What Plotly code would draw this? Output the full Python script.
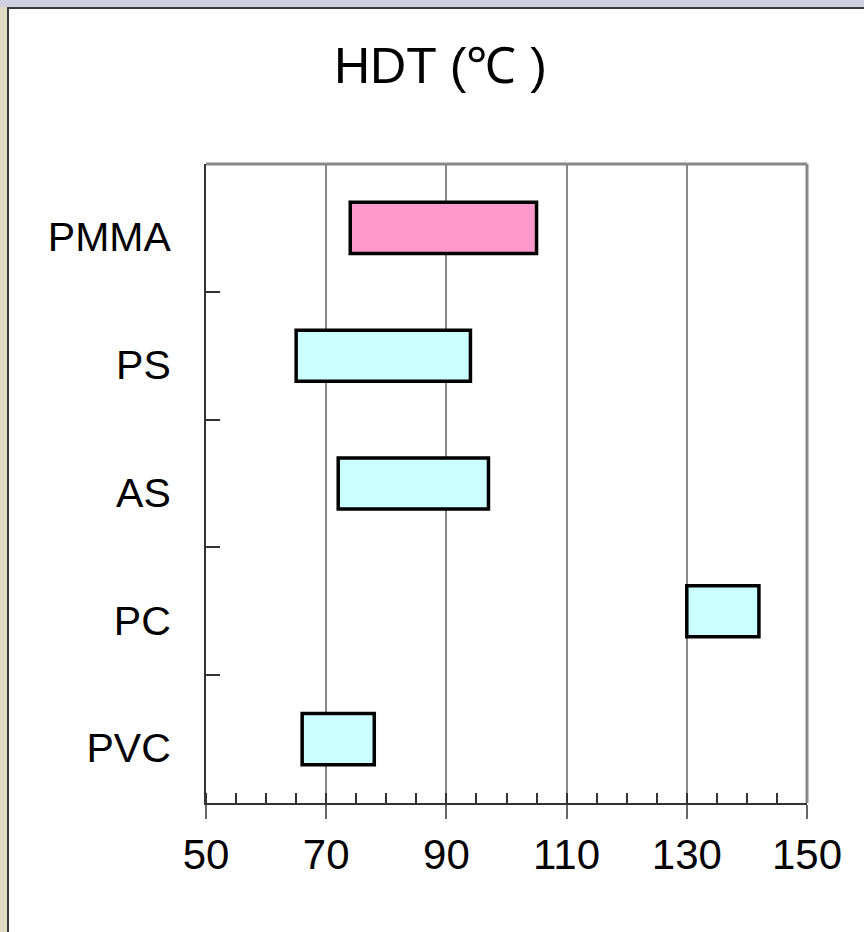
import plotly.graph_objects as go

# Heat deflection temperature ranges of common transparent plastics
materials = ["PMMA", "PS", "AS", "PC", "PVC"]
hdt_low = [74, 65, 72, 130, 66]
hdt_high = [105, 94, 97, 142, 78]
bar_colors = ["#FF99CC", "#CCFFFF", "#CCFFFF", "#CCFFFF", "#CCFFFF"]
x_ticks = [50, 70, 90, 110, 130, 150]

FONT = "Liberation Sans, Arial, Helvetica, sans-serif"

spans = [hi - lo for lo, hi in zip(hdt_low, hdt_high)]

fig = go.Figure(
    go.Bar(
        y=materials,
        x=spans,
        base=hdt_low,
        orientation="h",
        width=0.4,
        marker=dict(color=bar_colors, line=dict(color="#000000", width=3.5)),
        hoverinfo="skip",
    )
)

W, H = 864, 932
L, R, T, B = 206, 57, 164, 129
pw, ph = W - L - R, H - T - B


def px(xp):
    return (xp - L) / pw


def py(yp):
    return (H - B - yp) / ph


shapes = [
    # white chart panel with its dark frame
    dict(type="rect", xref="paper", yref="paper", layer="below",
         x0=px(8), x1=px(W + 10), y0=py(H + 10), y1=py(8),
         fillcolor="#FFFFFF", line=dict(color="#3a3a3a", width=2)),
    # top band of the surrounding background
    dict(type="rect", xref="paper", yref="paper", layer="below",
         x0=px(-5), x1=px(W + 10), y0=py(7), y1=py(-5),
         fillcolor="#cfcfe0", line=dict(width=0)),
    # top and right borders of the plot area
    dict(type="line", xref="paper", yref="paper", x0=0, x1=1, y0=1, y1=1,
         line=dict(color="#888888", width=3)),
    dict(type="line", xref="paper", yref="paper", x0=1, x1=1, y0=0, y1=1,
         line=dict(color="#888888", width=3)),
]

fig.update_layout(
    width=W,
    height=H,
    margin=dict(l=L, r=R, t=T, b=B),
    paper_bgcolor="#e0dbc3",
    plot_bgcolor="#FFFFFF",
    showlegend=False,
    shapes=shapes,
    font=dict(family=FONT, color="#000000"),
    annotations=[
        dict(text="HDT (℃ )", xref="paper", yref="paper",
             x=px(440), y=py(66), xanchor="center", yanchor="middle",
             showarrow=False, font=dict(size=50, family=FONT, color="#000000")),
    ],
    xaxis=dict(
        range=[50, 150],
        tickvals=x_ticks,
        ticktext=[str(v) for v in x_ticks],
        showgrid=True,
        gridcolor="#888888",
        gridwidth=1.5,
        zeroline=False,
        showline=True,
        linecolor="#333333",
        linewidth=2,
        ticks="outside",
        ticklen=14,
        tickwidth=1.5,
        tickcolor="#666666",
        ticklabelstandoff=0,
        tickfont=dict(size=42, family=FONT, color="#000000"),
        minor=dict(dtick=5, tick0=50, ticks="inside", ticklen=10,
                   tickwidth=1.5, tickcolor="#333333", showgrid=False),
        fixedrange=True,
    ),
    yaxis=dict(
        categoryorder="array",
        categoryarray=materials,
        autorange="reversed",
        showgrid=False,
        zeroline=False,
        showline=True,
        linecolor="#333333",
        linewidth=2,
        tickson="boundaries",
        ticks="inside",
        ticklen=14,
        tickwidth=1.5,
        tickcolor="#333333",
        ticklabelstandoff=25,
        ticklabelshift=-9,
        tickfont=dict(size=41, family=FONT, color="#000000"),
        fixedrange=True,
    ),
)

fig.write_html("out.html", config={"displayModeBar": False})
